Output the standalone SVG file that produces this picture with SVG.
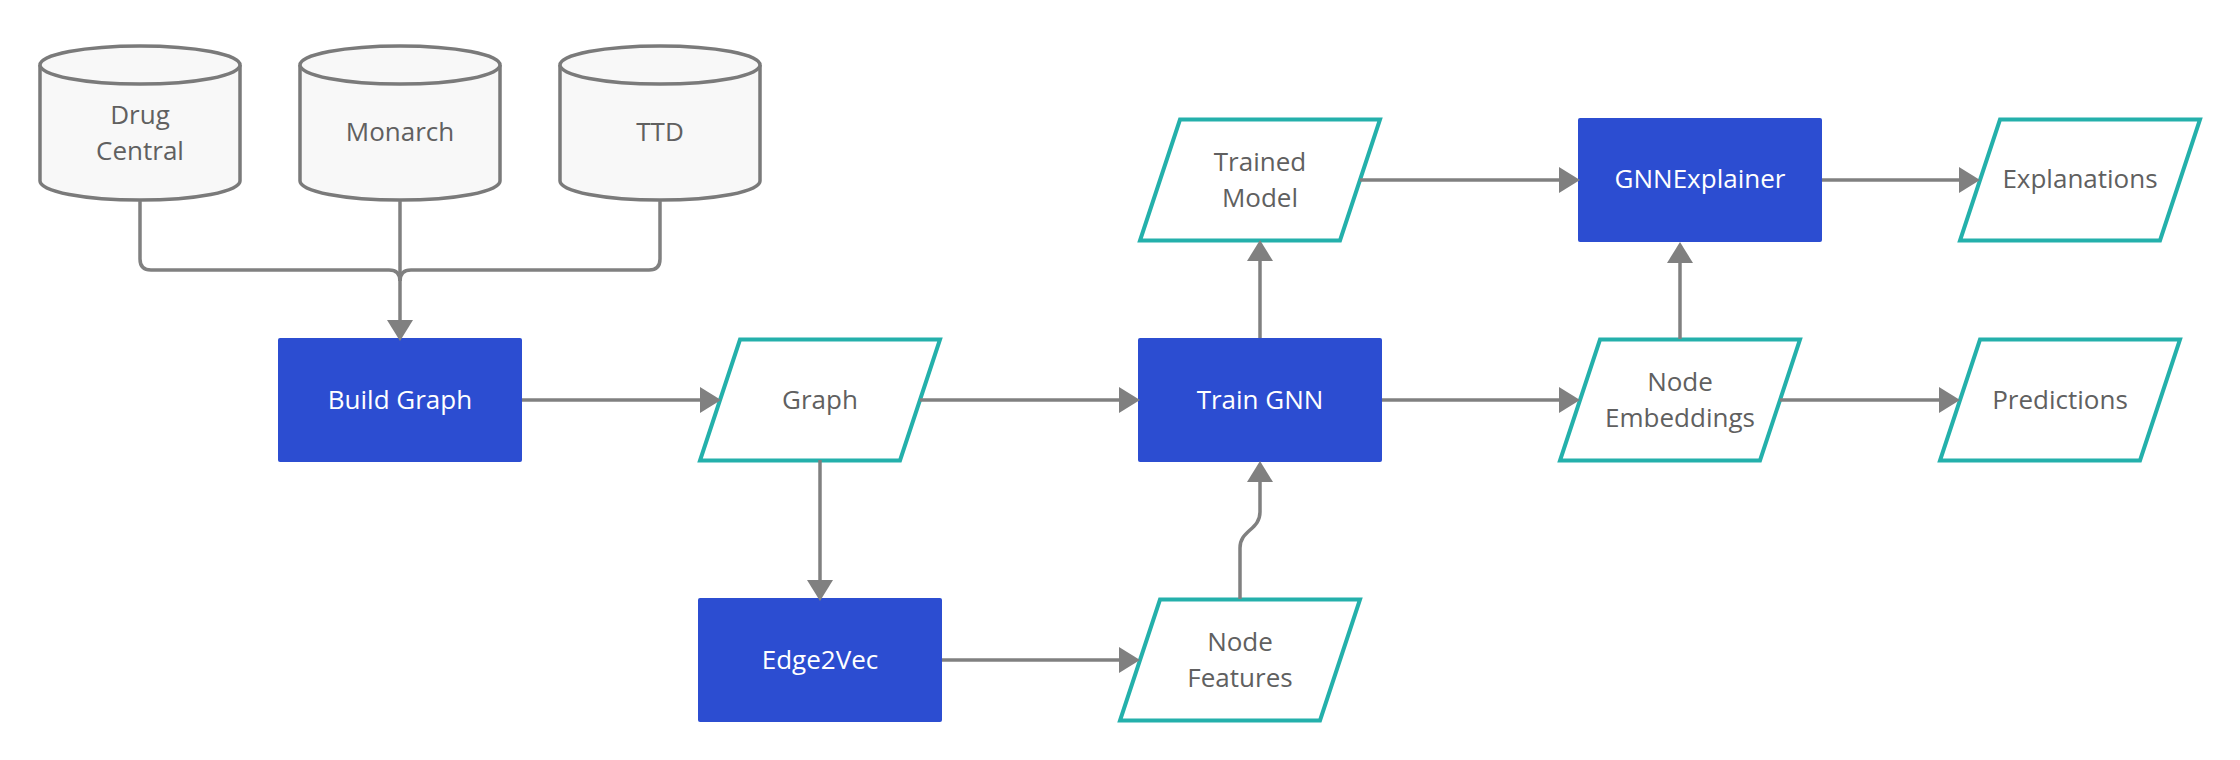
<svg xmlns="http://www.w3.org/2000/svg" width="2240" height="760" viewBox="0 0 2240 760">
<defs>
<style>
.db{fill:#f8f8f8;stroke:#7a7a7a;stroke-width:3.5}
.proc{fill:#2c4dd1}
.data{fill:#ffffff;stroke:#24b0ab;stroke-width:4;stroke-linejoin:miter}
.lbl{font-family:"Open Sans","Noto Sans","Liberation Sans",sans-serif;font-size:26px;text-anchor:middle;fill:#606060}
.wlbl{font-family:"Open Sans","Noto Sans","Liberation Sans",sans-serif;font-size:26px;text-anchor:middle;fill:#ffffff}
.edge{fill:none;stroke:#808080;stroke-width:3.5}
</style>
<marker id="arr" markerUnits="userSpaceOnUse" viewBox="0 0 21 26" markerWidth="21" markerHeight="26" refX="11" refY="13" orient="auto">
<path d="M0,0 L21,13 L0,26 Z" fill="#808080"/>
</marker>
</defs>
<rect width="2240" height="760" fill="#ffffff"/>

<g id="drugcentral">
<path class="db" d="M40,65 A100,19 0 0 1 240,65 V181 A100,19 0 0 1 40,181 Z"/>
<path class="db" d="M40,65 A100,19 0 0 0 240,65" fill="none"/>
<text class="lbl" x="140" y="124">Drug</text>
<text class="lbl" x="140" y="160">Central</text>
</g>
<g id="monarch">
<path class="db" d="M300,65 A100,19 0 0 1 500,65 V181 A100,19 0 0 1 300,181 Z"/>
<path class="db" d="M300,65 A100,19 0 0 0 500,65" fill="none"/>
<text class="lbl" x="400" y="141">Monarch</text>
</g>
<g id="ttd">
<path class="db" d="M560,65 A100,19 0 0 1 760,65 V181 A100,19 0 0 1 560,181 Z"/>
<path class="db" d="M560,65 A100,19 0 0 0 760,65" fill="none"/>
<text class="lbl" x="660" y="141">TTD</text>
</g>

<g id="buildgraph">
<rect class="proc" x="278" y="338" width="244" height="124" rx="2"/>
<text class="wlbl" x="400" y="409">Build Graph</text>
</g>
<g id="graph">
<polygon class="data" points="740,339.5 940,339.5 900,460.5 700,460.5"/>
<text class="lbl" x="820" y="409">Graph</text>
</g>
<g id="edge2vec">
<rect class="proc" x="698" y="598" width="244" height="124" rx="2"/>
<text class="wlbl" x="820" y="669">Edge2Vec</text>
</g>
<g id="nodefeatures">
<polygon class="data" points="1160,599.5 1360,599.5 1320,720.5 1120,720.5"/>
<text class="lbl" x="1240" y="651">Node</text>
<text class="lbl" x="1240" y="687">Features</text>
</g>
<g id="traingnn">
<rect class="proc" x="1138" y="338" width="244" height="124" rx="2"/>
<text class="wlbl" x="1260" y="409">Train GNN</text>
</g>
<g id="trainedmodel">
<polygon class="data" points="1180,119.5 1380,119.5 1340,240.5 1140,240.5"/>
<text class="lbl" x="1260" y="171">Trained</text>
<text class="lbl" x="1260" y="207">Model</text>
</g>
<g id="gnnexplainer">
<rect class="proc" x="1578" y="118" width="244" height="124" rx="2"/>
<text class="wlbl" x="1700" y="188">GNNExplainer</text>
</g>
<g id="explanations">
<polygon class="data" points="2000,119.5 2200,119.5 2160,240.5 1960,240.5"/>
<text class="lbl" x="2080" y="188">Explanations</text>
</g>
<g id="nodeembeddings">
<polygon class="data" points="1600,339.5 1800,339.5 1760,460.5 1560,460.5"/>
<text class="lbl" x="1680" y="391">Node</text>
<text class="lbl" x="1680" y="427">Embeddings</text>
</g>
<g id="predictions">
<polygon class="data" points="1980,339.5 2180,339.5 2140,460.5 1940,460.5"/>
<text class="lbl" x="2060" y="409">Predictions</text>
</g>

<g id="connectors">
<path class="edge" d="M140,201 V259 Q140,270 151,270 H389 Q400,270 400,281"/>
<path class="edge" d="M660,201 V259 Q660,270 649,270 H411 Q400,270 400,281"/>
<path class="edge" d="M400,201 V331" marker-end="url(#arr)"/>
<path class="edge" d="M522,400 H711" marker-end="url(#arr)"/>
<path class="edge" d="M920,400 H1130" marker-end="url(#arr)"/>
<path class="edge" d="M820,460 V591" marker-end="url(#arr)"/>
<path class="edge" d="M942,660 H1130" marker-end="url(#arr)"/>
<path class="edge" d="M1240,599 V548 C1240,530 1260,530 1260,512 V471" marker-end="url(#arr)"/>
<path class="edge" d="M1260,338 V250" marker-end="url(#arr)"/>
<path class="edge" d="M1360,180 H1570" marker-end="url(#arr)"/>
<path class="edge" d="M1822,180 H1970" marker-end="url(#arr)"/>
<path class="edge" d="M1382,400 H1570" marker-end="url(#arr)"/>
<path class="edge" d="M1780,400 H1950" marker-end="url(#arr)"/>
<path class="edge" d="M1680,339 V252" marker-end="url(#arr)"/>
</g>
</svg>
